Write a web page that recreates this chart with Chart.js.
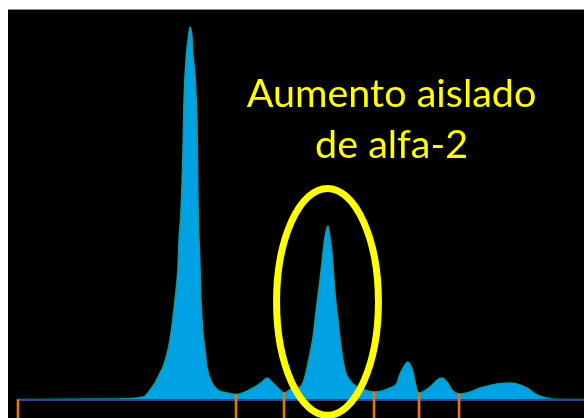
<!DOCTYPE html>
<html>
<head>
<meta charset="utf-8">
<script src="https://cdn.jsdelivr.net/npm/chart.js@4.4.1/dist/chart.umd.min.js"></script>
<style>
  html, body { margin: 0; padding: 0; background: #ffffff; }
  #marco { position: absolute; left: 8px; top: 9px; width: 576px; height: 409px; background: #000000; }
  #linea { position: absolute; left: 8px; top: 9px; width: 576px; height: 1px; background: #8a8a8a; z-index: 2; }
  canvas { display: block; }
</style>
</head>
<body>
<div id="marco"><canvas id="proteinograma" width="576" height="409"></canvas></div>
<div id="linea"></div>
<script>
// Recorrido de la tira de electroforesis (unidades relativas, 0 = aplicación)
const posicion = [
  0, 3.89, 8.30, 12.72, 16.25, 18.90, 21.55, 22.44, 23.32, 24.20, 25.09, 25.62,
  26.50, 27.03, 27.39, 27.74, 28.27, 28.45, 28.80, 29.15, 29.33, 29.68, 30.04,
  30.39, 30.74, 30.92, 31.27, 31.45, 31.63, 31.80, 32.16, 32.33, 32.69, 33.04,
  33.39, 34.28, 35.34, 36.93, 38.52,
  40.11, 41.52, 43.11, 43.99, 45.05, 46.29, 47.00,
  48.59, 49.82, 50.53, 51.24, 52.12, 52.83, 53.36, 53.89, 54.24, 54.77, 55.12,
  55.48, 55.83, 56.18, 56.54, 57.07, 57.77, 59.01, 60.42, 62.90,
  65.72, 66.96, 67.49, 68.02, 68.90, 69.79, 70.14, 70.49, 70.85,
  72.79, 74.03, 74.91, 75.80, 76.68, 77.92,
  79.86, 81.63, 84.63, 86.93, 89.93, 91.70, 93.46, 94.88, 100
];

const densidad = [
  0.13, 0.13, 0.18, 0.26, 0.26, 0.31, 0.64, 1.02, 2.56, 4.35, 6.91, 8.44,
  12.79, 17.14, 21.23, 25.58, 34.02, 40.92, 48.59, 63.94, 76.73, 86.96, 92.07,
  95.40, 92.84, 88.24, 83.12, 78.01, 71.61, 51.15, 34.02, 25.58, 17.14, 12.79,
  8.44, 4.35, 2.56, 1.79, 1.41,
  2.05, 3.07, 4.60, 5.63, 4.35, 2.56, 1.79,
  3.07, 3.32, 5.12, 9.46, 16.11, 24.81, 30.69, 37.60, 41.69, 44.50, 41.69,
  37.60, 30.69, 24.81, 20.46, 13.55, 7.67, 4.35, 3.07, 2.05,
  3.07, 4.35, 6.65, 8.18, 9.72, 7.16, 4.60, 2.56, 1.79,
  3.32, 5.12, 5.63, 4.60, 2.56, 1.53,
  2.05, 3.07, 4.09, 4.35, 3.07, 1.28, 0.51, 0.18, 0.13
];

// Límites entre fracciones (albúmina, alfa-1, alfa-2, beta-1, beta-2, gamma)
const limites = [0, 38.52, 47.00, 62.90, 70.85, 77.92];

const textoNota = ['Aumento aislado', 'de alfa-2'];

const Y_MIN = -4.6;
const Y_MAX = 100;

const curva = posicion.map((x, i) => ({ x: x, y: densidad[i] }));
const marcas = limites.map(x => ({ x: x, y: [Y_MIN, densidad[posicion.indexOf(x)]] }));

// Elipse y rótulo que señalan el pico de alfa-2
const notaPlugin = {
  id: 'nota',
  afterDraw(chart) {
    const { ctx, scales: { x, y } } = chart;
    const o = chart.options.plugins.nota;
    ctx.save();
    const cx = x.getPixelForValue(o.elipse.x);
    const cy = y.getPixelForValue(o.elipse.y);
    const rx = Math.abs(x.getPixelForValue(o.elipse.x + o.elipse.rx) - cx);
    const ry = Math.abs(y.getPixelForValue(o.elipse.y + o.elipse.ry) - cy);
    ctx.beginPath();
    ctx.ellipse(cx, cy, rx, ry, 0, 0, Math.PI * 2);
    ctx.strokeStyle = o.color;
    ctx.lineWidth = 7;
    ctx.stroke();

    ctx.fillStyle = o.color;
    ctx.font = o.fuente;
    ctx.textAlign = 'center';
    ctx.textBaseline = 'alphabetic';
    const tx = x.getPixelForValue(o.texto.x);
    o.texto.lineas.forEach((t, i) => {
      ctx.fillText(t, tx, y.getPixelForValue(o.texto.y[i]));
    });
    ctx.restore();
  }
};

new Chart(document.getElementById('proteinograma'), {
  type: 'line',
  data: {
    datasets: [
      {
        type: 'bar',
        data: marcas,
        backgroundColor: '#E8720C',
        barThickness: 2,
        borderWidth: 0,
        clip: false,
        order: 0
      },
      {
        type: 'line',
        data: [{ x: 0, y: 0 }, { x: 100, y: 0 }],
        borderColor: '#33478C',
        borderWidth: 2,
        pointRadius: 0,
        fill: false,
        order: 1
      },
      {
        type: 'line',
        data: curva,
        borderColor: '#1C9696',
        borderWidth: 1.5,
        backgroundColor: '#00A2E3',
        fill: 'origin',
        pointRadius: 0,
        cubicInterpolationMode: 'monotone',
        order: 2
      }
    ]
  },
  options: {
    responsive: false,
    animation: false,
    devicePixelRatio: 1,
    layout: { padding: { left: 10, right: 0, top: 0, bottom: 0 } },
    scales: {
      x: { type: 'linear', display: false, min: 0, max: 100, offset: false },
      y: { display: false, min: Y_MIN, max: Y_MAX }
    },
    plugins: {
      legend: { display: false },
      tooltip: { enabled: false },
      nota: {
        color: '#FFFF00',
        fuente: '39.5px Lato',
        elipse: { x: 54.68, y: 25.1, rx: 9.0, ry: 29.0 },
        texto: { x: 66.0, y: [74.9, 61.9], lineas: textoNota }
      }
    }
  },
  plugins: [notaPlugin]
});
</script>
</body>
</html>
